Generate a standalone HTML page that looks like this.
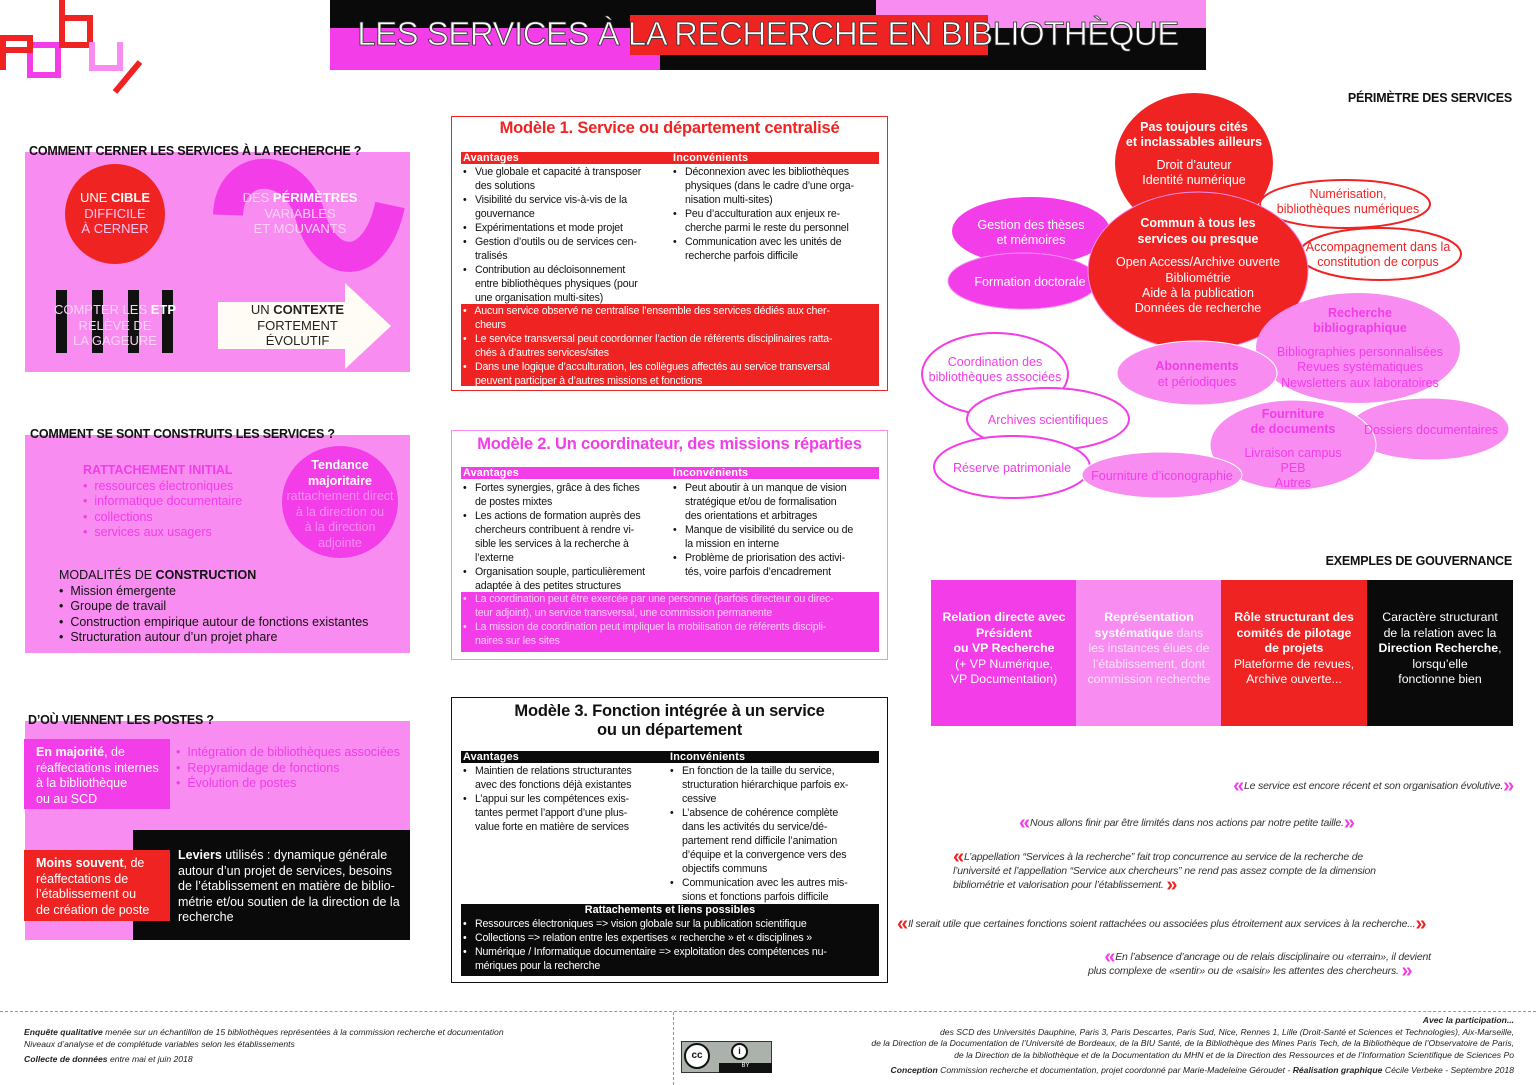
<!DOCTYPE html>
<html><head><meta charset="utf-8">
<style>
*{margin:0;padding:0;box-sizing:border-box}
body{width:1536px;height:1085px;position:relative;background:#fff;font-family:"Liberation Sans",sans-serif;overflow:hidden;color:#111}
.a{position:absolute}
.n{white-space:nowrap}
.h{font-weight:bold;font-size:12.5px;letter-spacing:-0.2px}
.l{font-size:10.6px;line-height:14px;letter-spacing:-0.15px}
.l div{padding-left:12px;text-indent:-12px;white-space:nowrap}
.hb{font-size:10.8px;line-height:12px;height:12px;color:#fff;font-weight:bold;letter-spacing:0.2px}
.c{text-align:center}
.q{font-style:italic;font-size:10.5px;color:#333;letter-spacing:-0.2px;white-space:nowrap}
.qm{font-weight:bold;font-style:normal;font-size:20px;vertical-align:-3px}
.f{font-style:italic;font-size:8.6px;color:#222;white-space:nowrap}
</style></head><body>

<!-- logo -->
<svg class="a" style="left:0;top:0" width="150" height="100">
<g fill="none" stroke-width="6">
<path d="M30 75 V45 H58 V75 Z" stroke="#f23de8"/>
<path d="M3 70 V38 H30 V50 H5" stroke="#f02323"/>
<path d="M62 0 V45 H90 V18 H62" stroke="#f02323"/>
<path d="M92 42 V68 H120 V42" stroke="#f98cf1"/>
</g>
<path d="M115 92 L140 62" stroke="#f02323" stroke-width="6"/>
</svg>

<!-- header -->
<div class="a" style="left:330px;top:0;width:546px;height:28px;background:#0a0a0a"></div>
<div class="a" style="left:876px;top:0;width:330px;height:28px;background:#f98cf1"></div>
<div class="a" style="left:330px;top:28px;width:330px;height:42px;background:#f23de8"></div>
<div class="a" style="left:660px;top:28px;width:546px;height:42px;background:#0a0a0a"></div>
<div class="a" style="left:630px;top:15px;width:358px;height:40px;background:#f02323"></div>
<div class="a n" style="left:330px;top:15px;width:876px;text-align:center;font-size:33px;color:#fff;-webkit-text-stroke:0.8px #333;letter-spacing:-0.5px">LES SERVICES À LA RECHERCHE EN BIBLIOTHÈQUE</div>

<!-- Section 1 -->
<div class="a" style="left:25px;top:152px;width:385px;height:220px;background:#f98cf1"></div>
<div class="a n h" style="left:29px;top:144px">COMMENT CERNER LES SERVICES À LA RECHERCHE ?</div>
<div class="a" style="left:65px;top:164px;width:100px;height:100px;border-radius:50%;background:#f02323"></div>
<div class="a c" style="left:65px;top:190px;width:100px;font-size:13px;line-height:15.5px;color:#fff">UNE <b>CIBLE</b><br><span style="color:#fbc4f6">DIFFICILE<br>À CERNER</span></div>
<svg class="a" style="left:200px;top:150px" width="210" height="130"><path d="M28 65 C30 10, 95 10, 110 65 S 175 125, 190 55" fill="none" stroke="#f23de8" stroke-width="30"/></svg>
<div class="a c" style="left:235px;top:190px;width:130px;font-size:13px;line-height:15.5px;color:#fcd2f9">DES <b style="color:#fff">PÉRIMÈTRES</b><br>VARIABLES<br>ET MOUVANTS</div>
<div class="a" style="left:56px;top:290px;width:11px;height:63px;background:#111"></div>
<div class="a" style="left:92px;top:290px;width:11px;height:63px;background:#111"></div>
<div class="a" style="left:128px;top:290px;width:11px;height:63px;background:#111"></div>
<div class="a" style="left:162px;top:290px;width:11px;height:63px;background:#111"></div>
<div class="a c" style="left:45px;top:302px;width:140px;font-size:13px;line-height:15.5px;color:#fcd2f9">COMPTER LES <b style="color:#fff">ETP</b><br>RELÈVE DE<br>LA GAGEURE</div>
<div class="a" style="left:218px;top:302px;width:128px;height:47px;background:#fefcf4"></div>
<div class="a" style="left:345px;top:283px;width:0;height:0;border-top:43px solid transparent;border-bottom:43px solid transparent;border-left:46px solid #fefcf4"></div>
<div class="a c" style="left:230px;top:302px;width:135px;font-size:13px;line-height:15.5px;color:#222">UN <b>CONTEXTE</b><br>FORTEMENT<br>ÉVOLUTIF</div>

<!-- Section 2 -->
<div class="a" style="left:25px;top:435px;width:385px;height:218px;background:#f98cf1"></div>
<div class="a n h" style="left:30px;top:427px">COMMENT SE SONT CONSTRUITS LES SERVICES ?</div>
<div class="a n" style="left:83px;top:463px;font-size:12.5px;line-height:15.5px;color:#f23de8"><b>RATTACHEMENT INITIAL</b><br>•&nbsp; ressources électroniques<br>•&nbsp; informatique documentaire<br>•&nbsp; collections<br>•&nbsp; services aux usagers</div>
<div class="a" style="left:282px;top:446px;width:116px;height:112px;border-radius:50%;background:#f23de8"></div>
<div class="a c n" style="left:276px;top:458px;width:128px;font-size:12.5px;line-height:15.5px;color:#f98cf1"><b style="color:#fff">Tendance<br>majoritaire</b><br>rattachement direct<br>à la direction ou<br>à la direction<br>adjointe</div>
<div class="a n" style="left:59px;top:568px;font-size:12.5px;line-height:15.5px;color:#111">MODALITÉS DE <b>CONSTRUCTION</b><br>•&nbsp; Mission émergente<br>•&nbsp; Groupe de travail<br>•&nbsp; Construction empirique autour de fonctions existantes<br>•&nbsp; Structuration autour d’un projet phare</div>

<!-- Section 3 -->
<div class="a" style="left:25px;top:721px;width:385px;height:110px;background:#f98cf1"></div>
<div class="a" style="left:25px;top:830px;width:110px;height:110px;background:#f98cf1"></div>
<div class="a n h" style="left:28px;top:713px">D’OÙ VIENNENT LES POSTES ?</div>
<div class="a" style="left:24px;top:739px;width:146px;height:70px;background:#f23de8"></div>
<div class="a n" style="left:36px;top:745px;font-size:12.5px;line-height:15.5px;color:#fff"><b>En majorité</b>, de<br>réaffectations internes<br>à la bibliothèque<br>ou au SCD</div>
<div class="a n" style="left:176px;top:745px;font-size:12.5px;line-height:15.5px;color:#f23de8">•&nbsp; Intégration de bibliothèques associées<br>•&nbsp; Repyramidage de fonctions<br>•&nbsp; Évolution de postes</div>
<div class="a" style="left:133px;top:830px;width:277px;height:110px;background:#0a0a0a"></div>
<div class="a" style="left:24px;top:850px;width:146px;height:71px;background:#f02323"></div>
<div class="a n" style="left:36px;top:856px;font-size:12.5px;line-height:15.5px;color:#fff"><b>Moins souvent</b>, de<br>réaffectations de<br>l’établissement ou<br>de création de poste</div>
<div class="a n" style="left:178px;top:848px;font-size:12.5px;line-height:15.5px;color:#fff"><b>Leviers</b> utilisés : dynamique générale<br>autour d’un projet de services, besoins<br>de l’établissement en matière de biblio-<br>métrie et/ou soutien de la direction de la<br>recherche</div>

<!-- Model 1 -->
<div class="a" style="left:451px;top:116px;width:437px;height:275px;border:1px solid #f02323"></div>
<div class="a c n" style="left:451px;top:119px;width:437px;font-size:16.5px;color:#f02323;font-weight:bold;letter-spacing:-0.2px">Modèle 1. Service ou département centralisé</div>
<div class="a" style="left:461px;top:152px;width:418px;height:12px;background:#f02323"></div>
<div class="a n hb" style="left:463px;top:152px">Avantages</div>
<div class="a n hb" style="left:673px;top:152px">Inconvénients</div>
<div class="a l" style="left:463px;top:165px"><div>•&nbsp;&nbsp; Vue globale et capacité à transposer<br>des solutions</div><div>•&nbsp;&nbsp; Visibilité du service vis-à-vis de la<br>gouvernance</div><div>•&nbsp;&nbsp; Expérimentations et mode projet</div><div>•&nbsp;&nbsp; Gestion d’outils ou de services cen-<br>tralisés</div><div>•&nbsp;&nbsp; Contribution au décloisonnement<br>entre bibliothèques physiques (pour<br>une organisation multi-sites)</div></div>
<div class="a l" style="left:673px;top:165px"><div>•&nbsp;&nbsp; Déconnexion avec les bibliothèques<br>physiques (dans le cadre d’une orga-<br>nisation multi-sites)</div><div>•&nbsp;&nbsp; Peu d’acculturation aux enjeux re-<br>cherche parmi le reste du personnel</div><div>•&nbsp;&nbsp; Communication avec les unités de<br>recherche parfois difficile</div></div>
<div class="a" style="left:461px;top:304px;width:418px;height:82px;background:#f02323"></div>
<div class="a l" style="left:463px;top:304px;color:#fff"><div>•&nbsp;&nbsp; Aucun service observé ne centralise l’ensemble des services dédiés aux cher-<br>cheurs</div><div>•&nbsp;&nbsp; Le service transversal peut coordonner l’action de référents disciplinaires ratta-<br>chés à d’autres services/sites</div><div>•&nbsp;&nbsp; Dans une logique d’acculturation, les collègues affectés au service transversal<br>peuvent participer à d’autres missions et fonctions</div></div>

<!-- Model 2 -->
<div class="a" style="left:451px;top:430px;width:437px;height:230px;border:1px solid #f98cf1"></div>
<div class="a c n" style="left:451px;top:435px;width:437px;font-size:16.5px;color:#f23de8;font-weight:bold;letter-spacing:-0.2px">Modèle 2. Un coordinateur, des missions réparties</div>
<div class="a" style="left:461px;top:467px;width:418px;height:12px;background:#f23de8"></div>
<div class="a n hb" style="left:463px;top:467px">Avantages</div>
<div class="a n hb" style="left:673px;top:467px">Inconvénients</div>
<div class="a l" style="left:463px;top:481px"><div>•&nbsp;&nbsp; Fortes synergies, grâce à des fiches<br>de postes mixtes</div><div>•&nbsp;&nbsp; Les actions de formation auprès des<br>chercheurs contribuent à rendre vi-<br>sible les services à la recherche à<br>l’externe</div><div>•&nbsp;&nbsp; Organisation souple, particulièrement<br>adaptée à des petites structures</div></div>
<div class="a l" style="left:673px;top:481px"><div>•&nbsp;&nbsp; Peut aboutir à un manque de vision<br>stratégique et/ou de formalisation<br>des orientations et arbitrages</div><div>•&nbsp;&nbsp; Manque de visibilité du service ou de<br>la mission en interne</div><div>•&nbsp;&nbsp; Problème de priorisation des activi-<br>tés, voire parfois d’encadrement</div></div>
<div class="a" style="left:461px;top:592px;width:418px;height:60px;background:#f23de8"></div>
<div class="a l" style="left:463px;top:592px;color:#fbd0f8"><div>•&nbsp;&nbsp; La coordination peut être exercée par une personne (parfois directeur ou direc-<br>teur adjoint), un service transversal, une commission permanente</div><div>•&nbsp;&nbsp; La mission de coordination peut impliquer la mobilisation de référents discipli-<br>naires sur les sites</div></div>

<!-- Model 3 -->
<div class="a" style="left:451px;top:697px;width:437px;height:286px;border:1px solid #111"></div>
<div class="a c n" style="left:451px;top:702px;width:437px;font-size:16.5px;line-height:19px;color:#111;font-weight:bold;letter-spacing:-0.2px">Modèle 3. Fonction intégrée à un service<br>ou un département</div>
<div class="a" style="left:461px;top:751px;width:418px;height:12px;background:#0a0a0a"></div>
<div class="a n hb" style="left:463px;top:751px">Avantages</div>
<div class="a n hb" style="left:670px;top:751px">Inconvénients</div>
<div class="a l" style="left:463px;top:764px"><div>•&nbsp;&nbsp; Maintien de relations structurantes<br>avec des fonctions déjà existantes</div><div>•&nbsp;&nbsp; L’appui sur les compétences exis-<br>tantes permet l’apport d’une plus-<br>value forte en matière de services</div></div>
<div class="a l" style="left:670px;top:764px"><div>•&nbsp;&nbsp; En fonction de la taille du service,<br>structuration hiérarchique parfois ex-<br>cessive</div><div>•&nbsp;&nbsp; L’absence de cohérence complète<br>dans les activités du service/dé-<br>partement rend difficile l’animation<br>d’équipe et la convergence vers des<br>objectifs communs</div><div>•&nbsp;&nbsp; Communication avec les autres mis-<br>sions et fonctions parfois difficile</div></div>
<div class="a" style="left:461px;top:904px;width:418px;height:72px;background:#0a0a0a"></div>
<div class="a c n" style="left:461px;top:904px;width:418px;font-size:10.8px;font-weight:bold;color:#fff">Rattachements et liens possibles</div>
<div class="a l" style="left:463px;top:917px;color:#fff"><div>•&nbsp;&nbsp; Ressources électroniques =&gt; vision globale sur la publication scientifique</div><div>•&nbsp;&nbsp; Collections =&gt; relation entre les expertises « recherche » et « disciplines »</div><div>•&nbsp;&nbsp; Numérique / Informatique documentaire =&gt; exploitation des compétences nu-<br>mériques pour la recherche</div></div>

<!-- Périmètre -->
<div class="a n h" style="right:24px;top:91px">PÉRIMÈTRE DES SERVICES</div>
<svg class="a" style="left:900px;top:80px" width="636" height="440" font-family="Liberation Sans, sans-serif" font-size="12.5" text-anchor="middle">
<g transform="translate(-900,-80)">
<ellipse cx="1194" cy="163" rx="79" ry="70" fill="#f02323"/>
<ellipse cx="1031" cy="231" rx="79" ry="34" fill="#f23de8"/>
<ellipse cx="1023" cy="281" rx="75" ry="28" fill="#f23de8" stroke="#f98cf1" stroke-width="1"/>
<ellipse cx="1345" cy="204" rx="85" ry="24" fill="#fff" stroke="#f02323" stroke-width="2"/>
<ellipse cx="1380" cy="254" rx="81" ry="26" fill="#fff" stroke="#f02323" stroke-width="2"/>
<ellipse cx="1198" cy="271" rx="110" ry="79" fill="#f02323" stroke="#f98cf1" stroke-width="1"/>
<ellipse cx="1358" cy="348" rx="102" ry="55" fill="#f98cf1"/>
<ellipse cx="1197" cy="373" rx="80" ry="32" fill="#f98cf1" stroke="#fff" stroke-width="1"/>
<ellipse cx="995" cy="374" rx="73" ry="41" fill="#fff" stroke="#f23de8" stroke-width="2"/>
<ellipse cx="1048" cy="419" rx="81" ry="31" fill="#fff" stroke="#f23de8" stroke-width="2"/>
<ellipse cx="1012" cy="467" rx="78" ry="31" fill="#fff" stroke="#f23de8" stroke-width="2"/>
<ellipse cx="1429" cy="429" rx="80" ry="31" fill="#f98cf1" stroke="#fff" stroke-width="1"/>
<ellipse cx="1293" cy="445" rx="83" ry="45" fill="#f98cf1" stroke="#fff" stroke-width="1"/>
<ellipse cx="1162" cy="475" rx="80" ry="23" fill="#f98cf1" stroke="#fff" stroke-width="1"/>
<g fill="#fff">
<text x="1194" y="131" font-weight="bold">Pas toujours cités</text>
<text x="1194" y="146" font-weight="bold">et inclassables ailleurs</text>
<text x="1194" y="169">Droit d’auteur</text>
<text x="1194" y="184">Identité numérique</text>
<text x="1031" y="229">Gestion des thèses</text>
<text x="1031" y="244">et mémoires</text>
<text x="1030" y="286">Formation doctorale</text>
<text x="1198" y="227" font-weight="bold">Commun à tous les</text>
<text x="1198" y="243" font-weight="bold">services ou presque</text>
<text x="1198" y="266">Open Access/Archive ouverte</text>
<text x="1198" y="282">Bibliométrie</text>
<text x="1198" y="297">Aide à la publication</text>
<text x="1198" y="312">Données de recherche</text>
</g>
<g fill="#f02323">
<text x="1348" y="198">Numérisation,</text>
<text x="1348" y="213">bibliothèques numériques</text>
<text x="1378" y="251">Accompagnement dans la</text>
<text x="1378" y="266">constitution de corpus</text>
</g>
<g fill="#f23de8">
<text x="1360" y="317" font-weight="bold">Recherche</text>
<text x="1360" y="332" font-weight="bold">bibliographique</text>
<text x="1360" y="356">Bibliographies personnalisées</text>
<text x="1360" y="371">Revues systématiques</text>
<text x="1360" y="387">Newsletters aux laboratoires</text>
<text x="1197" y="370" font-weight="bold">Abonnements</text>
<text x="1197" y="386">et périodiques</text>
<text x="995" y="366">Coordination des</text>
<text x="995" y="381">bibliothèques associées</text>
<text x="1048" y="424">Archives scientifiques</text>
<text x="1012" y="472">Réserve patrimoniale</text>
<text x="1162" y="480">Fourniture d’iconographie</text>
<text x="1293" y="418" font-weight="bold">Fourniture</text>
<text x="1293" y="433" font-weight="bold">de documents</text>
<text x="1293" y="457">Livraison campus</text>
<text x="1293" y="472">PEB</text>
<text x="1293" y="487">Autres</text>
<text x="1431" y="434">Dossiers documentaires</text>
</g>
</g>
</svg>

<!-- Gouvernance -->
<div class="a n h" style="right:24px;top:554px">EXEMPLES DE GOUVERNANCE</div>
<div class="a" style="left:931px;top:580px;width:146px;height:146px;background:#f23de8"></div>
<div class="a" style="left:1076px;top:580px;width:146px;height:146px;background:#f98cf1"></div>
<div class="a" style="left:1221px;top:580px;width:146px;height:146px;background:#f02323"></div>
<div class="a" style="left:1367px;top:580px;width:146px;height:146px;background:#0a0a0a"></div>
<div class="a c n" style="left:931px;top:610px;width:146px;font-size:12.3px;line-height:15.5px;color:#fff"><b>Relation directe avec<br>Président<br>ou VP Recherche</b><br>(+ VP Numérique,<br>VP Documentation)</div>
<div class="a c n" style="left:1076px;top:610px;width:146px;font-size:12.3px;line-height:15.5px;color:#fde3fb"><b style="color:#fff">Représentation<br>systématique</b> dans<br>les instances élues de<br>l’établissement, dont<br>commission recherche</div>
<div class="a c n" style="left:1221px;top:610px;width:146px;font-size:12.3px;line-height:15.5px;color:#fff"><b>Rôle structurant des<br>comités de pilotage<br>de projets</b><br>Plateforme de revues,<br>Archive ouverte...</div>
<div class="a c n" style="left:1367px;top:610px;width:146px;font-size:12.3px;line-height:15.5px;color:#fff">Caractère structurant<br>de la relation avec la<br><b>Direction Recherche</b>,<br>lorsqu’elle<br>fonctionne bien</div>

<!-- Quotes -->
<div class="a q" style="right:22px;top:775px"><span class="qm" style="color:#f23de8">«</span>Le service est encore récent et son organisation évolutive.<span class="qm" style="color:#f23de8">»</span></div>
<div class="a q" style="left:1019px;top:812px"><span class="qm" style="color:#f23de8">«</span>Nous allons finir par être limités dans nos actions par notre petite taille.<span class="qm" style="color:#f23de8">»</span></div>
<div class="a q" style="left:953px;top:850px;line-height:14px"><span class="qm" style="color:#f02323;line-height:10px">«</span>L’appellation “Services à la recherche” fait trop concurrence au service de la recherche de<br>l’université et l’appellation “Service aux chercheurs” ne rend pas assez compte de la dimension<br>bibliométrie et valorisation pour l’établissement. <span class="qm" style="color:#f02323;line-height:10px">»</span></div>
<div class="a q" style="left:897px;top:913px"><span class="qm" style="color:#f02323">«</span>Il serait utile que certaines fonctions soient rattachées ou associées plus étroitement aux services à la recherche...<span class="qm" style="color:#f02323">»</span></div>
<div class="a q" style="left:1088px;top:950px;line-height:14px">&nbsp;&nbsp;&nbsp;&nbsp;&nbsp;&nbsp;<span class="qm" style="color:#f23de8;line-height:10px">«</span>En l’absence d’ancrage ou de relais disciplinaire ou «terrain», il devient<br>plus complexe de «sentir» ou de «saisir» les attentes des chercheurs. <span class="qm" style="color:#f23de8;line-height:10px">»</span></div>

<!-- Footer -->
<div class="a" style="left:0;top:1011px;width:1536px;border-top:1px dashed #999"></div>
<div class="a" style="left:673px;top:1012px;height:73px;border-left:1px dashed #999"></div>
<div class="a f" style="left:24px;top:1026px;line-height:12px"><b>Enquête qualitative</b> menée sur un échantillon de 15 bibliothèques représentées à la commission recherche et documentation<br>Niveaux d’analyse et de complétude variables selon les établissements</div>
<div class="a f" style="left:24px;top:1054px"><b>Collecte de données</b> entre mai et juin 2018</div>
<div class="a f" style="right:22px;top:1015px;text-align:right;line-height:11.6px"><b>Avec la participation...</b><br>des SCD des Universités Dauphine, Paris 3, Paris Descartes, Paris Sud, Nice, Rennes 1, Lille (Droit-Santé et Sciences et Technologies), Aix-Marseille,<br>de la Direction de la Documentation de l’Université de Bordeaux, de la BIU Santé, de la Bibliothèque des Mines Paris Tech, de la Bibliothèque de l’Observatoire de Paris,<br>de la Direction de la bibliothèque et de la Documentation du MHN et de la Direction des Ressources et de l’Information Scientifique de Sciences Po</div>
<div class="a f" style="right:22px;top:1065px"><b>Conception</b> Commission recherche et documentation, projet coordonné par Marie-Madeleine Géroudet - <b>Réalisation graphique</b> Cécile Verbeke - Septembre 2018</div>
<div class="a" style="left:681px;top:1041px;width:91px;height:32px;background:#aab2ab;border:1px solid #333"></div>
<div class="a" style="left:719px;top:1063px;width:53px;height:10px;background:#111;color:#fff;font-size:6px;text-align:center">BY</div>
<div class="a c" style="left:684px;top:1043px;width:26px;height:26px;border-radius:50%;background:#fff;border:2px solid #111;font-size:10px;font-weight:bold;line-height:22px">cc</div>
<div class="a c" style="left:731px;top:1043px;width:17px;height:17px;border-radius:50%;background:#fff;border:2px solid #111;font-size:9px;font-weight:bold;line-height:13px">i</div>
</body></html>
